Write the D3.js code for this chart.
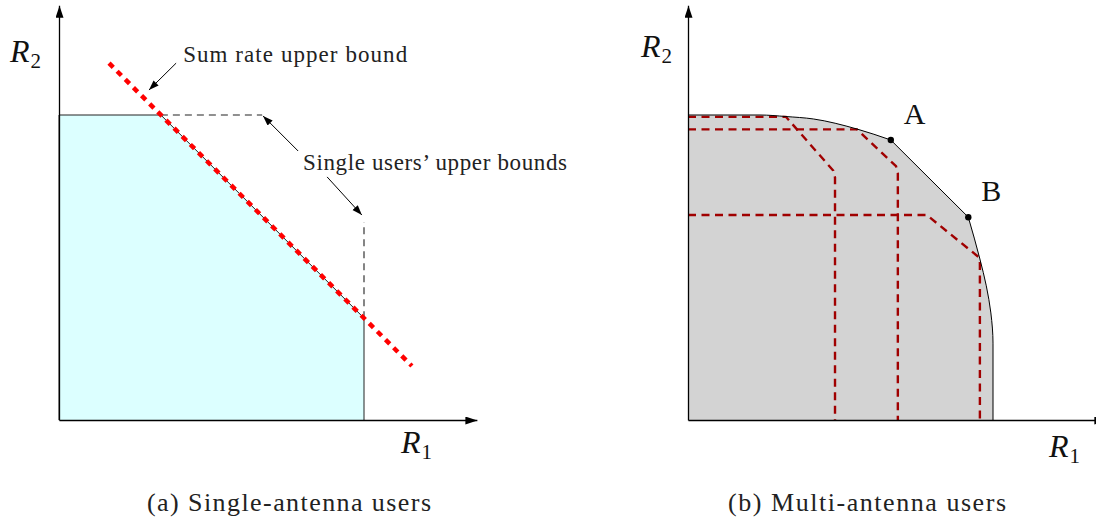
<!DOCTYPE html>
<html>
<head>
<meta charset="utf-8">
<script src="https://cdn.jsdelivr.net/npm/d3@7"></script>
<style>
  body { margin: 0; background: #fff; }
  svg { display: block; }
</style>
</head>
<body>
<svg id="chart" width="1096" height="521"></svg>
<script>
// ---- data (rates in normalised units) ----
const captions = ['(a) Single-antenna users', '(b) Multi-antenna users'];
const axisExtent = [1.37, 1.36];             // R1 max, R2 max shown on the axes

// (a) single-antenna users
const singleUserBounds = [1.0, 1.0];          // R1 bound, R2 bound
const sumRateBound = 1.334;                   // R1 + R2 <= C
const sumRateLineR1 = [0.164, 1.157];         // drawn extent of the sum-rate line
const dashedReach = [0.666, 0.649];           // how far the single-user bounds continue

// (b) multi-antenna users
const regionTopArc = [[0, 1], [0.236, 1], [0.321, 0.995], [0.411, 0.987], [0.554, 0.954], [0.665, 0.918]];
const regionRightArc = [[0.919, 0.665], [0.957, 0.528], [0.978, 0.44], [0.993, 0.351], [1.0, 0.252], [1.0, 0]];
const cornerPoints = [{ name: 'A', p: [0.665, 0.918] }, { name: 'B', p: [0.919, 0.665] }];
const innerRegions = [
  [[0, 0.994], [0.321, 0.994], [0.476, 0.818], [0.482, 0.795], [0.482, 0]],
  [[0, 0.953], [0.554, 0.953], [0.682, 0.832], [0.688, 0.81], [0.688, 0]],
  [[0, 0.672], [0.783, 0.672], [0.952, 0.535], [0.957, 0.515], [0.957, 0]]
];

// ---- layout ----
const unit = 305;           // px per rate unit
const originY = 420;
const origins = [59, 688];
const serif = '"Liberation Serif", "Times New Roman", serif';

const svg = d3.select('#chart');

const defs = svg.append('defs');
defs.append('marker')
  .attr('id', 'axis-arrow')
  .attr('markerUnits', 'userSpaceOnUse')
  .attr('markerWidth', 13).attr('markerHeight', 8)
  .attr('refX', 12).attr('refY', 4)
  .attr('orient', 'auto')
  .append('path').attr('d', 'M0,0L12,4L0,8Z').attr('fill', '#000');
defs.append('marker')
  .attr('id', 'note-arrow')
  .attr('markerUnits', 'userSpaceOnUse')
  .attr('markerWidth', 11).attr('markerHeight', 8)
  .attr('refX', 10).attr('refY', 3.6)
  .attr('orient', 'auto')
  .append('path').attr('d', 'M0,0L10,3.6L0,7.2Z').attr('fill', '#000');

function makeScales(ox) {
  const x = d3.scaleLinear().domain([0, axisExtent[0]]).range([ox, ox + axisExtent[0] * unit]);
  const y = d3.scaleLinear().domain([0, axisExtent[1]]).range([originY, originY - axisExtent[1] * unit]);
  return { x, y };
}

function drawAxes(g, s) {
  g.append('g')
    .attr('transform', `translate(0, ${originY})`)
    .call(d3.axisBottom(s.x).ticks(0).tickSizeOuter(0))
    .select('.domain')
    .attr('stroke', '#000').attr('stroke-width', 1.3)
    .attr('marker-end', 'url(#axis-arrow)');

  g.append('g')
    .attr('transform', `translate(${s.x(0)}, 0)`)
    .call(d3.axisLeft(s.y).ticks(0).tickSizeOuter(0))
    .select('.domain')
    .attr('stroke', '#000').attr('stroke-width', 1.3)
    .attr('marker-end', 'url(#axis-arrow)');
}

function axisLabel(g, x, y, sub) {
  const t = g.append('text')
    .attr('x', x).attr('y', y)
    .attr('font-family', serif)
    .attr('fill', '#111')
    .attr('font-size', 32)
    .attr('font-style', 'italic');
  t.append('tspan').text('R');
  t.append('tspan')
    .attr('font-style', 'normal')
    .attr('font-size', 21)
    .attr('dx', 1).attr('dy', 6)
    .text(sub);
}

function note(g, x, y, size, len, str) {
  g.append('text')
    .attr('x', x).attr('y', y)
    .attr('font-family', serif)
    .attr('fill', '#222')
    .attr('font-size', size)
    .attr('textLength', len).attr('lengthAdjust', 'spacing')
    .text(str);
}

// ================= (a) =================
const A = makeScales(origins[0]);
const ga = svg.append('g');

const [b1, b2] = singleUserBounds;
const region = [[0, 0], [0, b2], [sumRateBound - b2, b2], [b1, sumRateBound - b1], [b1, 0]];

ga.append('path')
  .datum(region)
  .attr('d', d3.line().x(d => A.x(d[0])).y(d => A.y(d[1])))
  .attr('fill', '#dcffff')
  .attr('stroke', '#222')
  .attr('stroke-width', 1);

// single-user bounds continued as dashes
ga.append('line')
  .attr('x1', A.x(sumRateBound - b2)).attr('y1', A.y(b2))
  .attr('x2', A.x(dashedReach[0])).attr('y2', A.y(b2))
  .attr('stroke', '#222').attr('stroke-width', 1.1)
  .attr('stroke-dasharray', '7,5');
ga.append('line')
  .attr('x1', A.x(b1)).attr('y1', A.y(sumRateBound - b1))
  .attr('x2', A.x(b1)).attr('y2', A.y(dashedReach[1]))
  .attr('stroke', '#222').attr('stroke-width', 1.1)
  .attr('stroke-dasharray', '7,5');

// sum-rate line
ga.append('line')
  .attr('x1', A.x(sumRateLineR1[0])).attr('y1', A.y(sumRateBound - sumRateLineR1[0]))
  .attr('x2', A.x(sumRateLineR1[1])).attr('y2', A.y(sumRateBound - sumRateLineR1[1]))
  .attr('stroke', '#ff0000').attr('stroke-width', 4.5)
  .attr('stroke-dasharray', '6,5.5');

drawAxes(ga, A);

// annotations
const noteArrows = [
  [[0.384, 1.17], [0.295, 1.082]],
  [[0.784, 0.882], [0.669, 0.997]],
  [[0.879, 0.797], [0.993, 0.672]]
];
ga.selectAll('.note')
  .data(noteArrows)
  .enter()
  .append('line')
  .attr('x1', d => A.x(d[0][0])).attr('y1', d => A.y(d[0][1]))
  .attr('x2', d => A.x(d[1][0])).attr('y2', d => A.y(d[1][1]))
  .attr('stroke', '#000').attr('stroke-width', 1)
  .attr('marker-end', 'url(#note-arrow)');

note(ga, A.x(0.407), A.y(1.174), 23, 224, 'Sum rate upper bound');
note(ga, A.x(0.8), A.y(0.82), 23, 264, 'Single users’ upper bounds');

axisLabel(ga, 10, 62, '2');
axisLabel(ga, 401, 453, '1');

// ================= (b) =================
const B = makeScales(origins[1]);
const gb = svg.append('g');

const topLine = d3.line().x(d => B.x(d[0])).y(d => B.y(d[1])).curve(d3.curveMonotoneX);
const rightLine = d3.line().x(d => B.x(d[0])).y(d => B.y(d[1])).curve(d3.curveMonotoneY);
const boundary = topLine(regionTopArc) + rightLine(regionRightArc).replace('M', 'L');

gb.append('path')
  .attr('d', boundary + `L${B.x(0)},${B.y(0)}Z`)
  .attr('fill', '#d3d3d3')
  .attr('stroke', 'none');

gb.selectAll('.inner')
  .data(innerRegions)
  .enter()
  .append('path')
  .attr('d', d3.line().x(d => B.x(d[0])).y(d => B.y(d[1])))
  .attr('fill', 'none')
  .attr('stroke', '#a00000')
  .attr('stroke-width', 2.4)
  .attr('stroke-dasharray', '8,5.5');

gb.append('path')
  .attr('d', boundary)
  .attr('fill', 'none')
  .attr('stroke', '#000')
  .attr('stroke-width', 1);

drawAxes(gb, B);

gb.selectAll('.corner')
  .data(cornerPoints)
  .enter()
  .append('circle')
  .attr('cx', d => B.x(d.p[0]))
  .attr('cy', d => B.y(d.p[1]))
  .attr('r', 3.2)
  .attr('fill', '#000');

gb.selectAll('.corner-label')
  .data(cornerPoints)
  .enter()
  .append('text')
  .attr('x', d => B.x(d.p[0]) + 13)
  .attr('y', d => B.y(d.p[1]) - 16)
  .attr('font-family', serif)
  .attr('fill', '#111')
  .attr('font-size', 30)
  .text(d => d.name);

axisLabel(gb, 641, 57, '2');
axisLabel(gb, 1049, 457, '1');

// ================= captions =================
captions.forEach((c, i) => note(svg, [147, 728][i], 511, 26, [284, 278][i], c));
</script>
</body>
</html>
